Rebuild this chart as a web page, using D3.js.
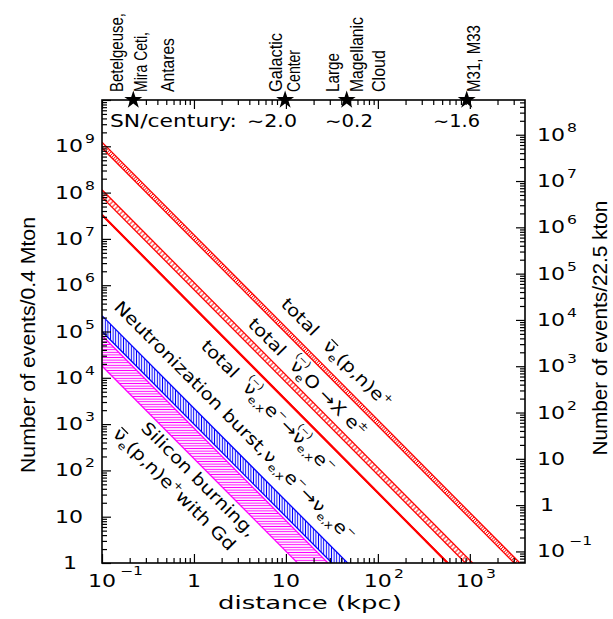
<!DOCTYPE html>
<html><head><meta charset="utf-8">
<script src="https://cdn.jsdelivr.net/npm/d3@7"></script>
<style>body{margin:0;background:#fff}svg{display:block}</style>
</head><body>
<svg id="c" width="613" height="619"></svg>
<script>
// ---------------- data ----------------
const xDomain = [0.1, 3981];            // distance, kpc
const yDomain = [1, 1e10];              // events / 0.4 Mton
const massRatio = 400 / 22.5;           // 0.4 Mton vs 22.5 kton
const bandDist = [0.1, 4000];           // kpc, end points of each band

const bandKeys   = ["nuebarPN", "nuO", "nuE", "neutronization", "silicon"];
const bandLowNear  = [9.2e8, 8.0e7, 3.3e7, 1.0e5, 1.8e4];     // at 0.1 kpc
const bandHighNear = [1.23e9, 1.15e8, 3.3e7, 2.2e5, 8.2e4];   // at 0.1 kpc
const bandLowFar   = [0.575, 0.050, 0.0206, 6.25e-5, 1.12e-5]; // at 4000 kpc
const bandHighFar  = [0.769, 0.0719, 0.0206, 1.375e-4, 5.13e-5];

const xTickVals = [0.1, 1, 10, 100, 1000];
const xTickBase = ["10", "1", "10", "10", "10"];
const xTickExp  = ["\u22121", "", "", "2", "3"];

const yTickVals = [1, 10, 1e2, 1e3, 1e4, 1e5, 1e6, 1e7, 1e8, 1e9];
const yTickBase = ["1", "10", "10", "10", "10", "10", "10", "10", "10", "10"];
const yTickExp  = ["", "", "2", "3", "4", "5", "6", "7", "8", "9"];

const yRTickVals = [0.1, 1, 10, 1e2, 1e3, 1e4, 1e5, 1e6, 1e7, 1e8];
const yRTickBase = ["10", "1", "10", "10", "10", "10", "10", "10", "10", "10"];
const yRTickExp  = ["\u22121", "", "", "2", "3", "4", "5", "6", "7", "8"];

const siteNames = [["Betelgeuse,", "Mira Ceti,", "Antares"], ["Galactic", "Center"], ["Large", "Magellanic", "Cloud"], ["M31, M33"]];
const siteDist  = [0.219, 9.8, 45.8, 925];
const snRateText = ["SN/century:", "\u223C2.0", "\u223C0.2", "\u223C1.6"];

// ---------------- layout ----------------
const L = 102, R = 525, T = 100, B = 563;
const svg = d3.select("#c");
const x = d3.scaleLog().domain(xDomain).range([L, R]);
const y = d3.scaleLog().domain(yDomain).range([B, T]);
const yR = d3.scaleLog().domain([yDomain[0] / massRatio, yDomain[1] / massRatio]).range([B, T]);

const tickFont = "'DejaVu Sans', sans-serif";
const narrowFont = "'Liberation Sans Narrow', 'Liberation Sans', sans-serif";

const defs = svg.append("defs");
defs.append("clipPath").attr("id", "plot").append("rect").attr("x", L).attr("y", T).attr("width", R - L).attr("height", B - T);
function hatch(id, color, spacing, angle, sw) {
  const p = defs.append("pattern").attr("id", id).attr("patternUnits", "userSpaceOnUse")
    .attr("width", spacing).attr("height", 10).attr("patternTransform", `rotate(${angle})`);
  p.append("line").attr("x1", spacing / 2).attr("x2", spacing / 2).attr("y1", -1).attr("y2", 11)
    .attr("stroke", color).attr("stroke-width", sw);
}
hatch("h0", "#ff0000", 2.2, 45, 0.8);
hatch("h1", "#ff0000", 3.5, 45, 1.0);
hatch("h3", "#0000ff", 2.6, 0, 1.0);
hatch("h4", "#ff00ff", 2.6, 90, 1.0);
const bandFill = ["url(#h0)", "url(#h1)", "none", "url(#h3)", "url(#h4)"];
const bandStroke = ["#ff0000", "#ff0000", "#ff0000", "#0000ff", "#ff00ff"];
const bandSW = [1.3, 1.3, 2.0, 1.3, 1.3];

// ---------------- bands ----------------
const gBands = svg.append("g").attr("clip-path", "url(#plot)");
const line = d3.line().x(d => x(d[0])).y(d => y(d[1]));
bandKeys.forEach((k, i) => {
  const hi = [[bandDist[0], bandHighNear[i]], [bandDist[1], bandHighFar[i]]];
  const lo = [[bandDist[0], bandLowNear[i]], [bandDist[1], bandLowFar[i]]];
  if (bandFill[i] !== "none") {
    gBands.append("path").attr("d", line(hi.concat(lo.slice().reverse())) + "Z")
      .attr("fill", bandFill[i]).attr("stroke", "none");
  }
  [hi, lo].forEach(edge => gBands.append("path").attr("d", line(edge))
    .attr("fill", "none").attr("stroke", bandStroke[i]).attr("stroke-width", bandSW[i]));
});

// ---------------- axes (ticks) ----------------
function decadeTicks(dom) {
  const maj = [], min = [];
  const lo = Math.floor(Math.log10(dom[0]) + 1e-9), hi = Math.ceil(Math.log10(dom[1]));
  for (let e = lo; e <= hi; e++) {
    for (let k = 1; k <= 9; k++) {
      const v = k * Math.pow(10, e);
      if (v < dom[0] * 0.999 || v > dom[1] * 1.001) continue;
      (k === 1 ? maj : min).push(v);
    }
  }
  return [maj, min];
}
function drawAxis(axisFn, scale, transform, dom) {
  const [maj, min] = decadeTicks(dom);
  [[maj, 9], [min, 5]].forEach(([vals, len]) => {
    const g = svg.append("g").attr("transform", transform)
      .call(axisFn(scale).tickValues(vals).tickSize(len).tickSizeOuter(0).tickFormat(""));
    g.select(".domain").remove();
    g.selectAll("line").attr("stroke", "#000").attr("stroke-width", 1.2);
  });
}
drawAxis(d3.axisTop, x, `translate(0,${B})`, x.domain());
drawAxis(d3.axisBottom, x, `translate(0,${T})`, x.domain());
drawAxis(d3.axisRight, y, `translate(${L},0)`, y.domain());
drawAxis(d3.axisLeft, yR, `translate(${R},0)`, yR.domain());
svg.append("rect").attr("x", L).attr("y", T).attr("width", R - L).attr("height", B - T)
  .attr("fill", "none").attr("stroke", "#000").attr("stroke-width", 1.6);

// text fitted to a target length by scaling along its own direction
function fitText(px, py, rot, txt, family, size, target, anchor) {
  const t = svg.append("text").attr("font-family", family).attr("font-size", size).text(txt);
  const w = t.node().getComputedTextLength();
  const s = target / w;
  const off = anchor === "middle" ? -target / 2 : 0;
  t.attr("transform", `translate(${px},${py}) rotate(${rot}) translate(${off},0) scale(${s},1)`);
  return t;
}

// ---------------- tick labels ----------------
const SX = 1.3;
function powLabel(px, py, base, exp, anchor, neg) {
  const g = svg.append("g");
  const bt = g.append("text").attr("font-family", tickFont).attr("font-size", 17).text(base)
    .attr("transform", `scale(${SX},1)`);
  const bw = bt.node().getComputedTextLength() * SX;
  let et = null;
  if (exp) et = g.append("text").attr("font-family", tickFont).attr("font-size", 12).text(exp);
  let x0;
  if (anchor === "end") x0 = px - bw;
  else if (anchor === "middle") x0 = px - bw / 2;
  else x0 = px;
  bt.attr("transform", `translate(${x0},${py}) scale(${SX},1)`);
  if (et) {
    const gap = neg ? 4 : 2;
    et.attr("transform", `translate(${x0 + bw + gap},${py - (neg ? 12 : 9)}) scale(${SX},1)`);
  }
}
xTickVals.forEach((v, i) => powLabel(x(v), 587, xTickBase[i], xTickExp[i], "middle", xTickExp[i].startsWith("\u2212")));
yTickVals.forEach((v, i) => powLabel(yTickBase[i] === "1" ? 77 : 83, y(v) + 6, yTickBase[i], yTickExp[i], "end", false));
yRTickVals.forEach((v, i) => powLabel(yRTickBase[i] === "1" ? 540 : 537, yR(v) + 6, yRTickBase[i], yRTickExp[i], "start", yRTickExp[i].startsWith("\u2212")));

// ---------------- axis titles ----------------
fitText(35, 345, -90, "Number of events/0.4 Mton", narrowFont, 21, 256, "middle");
fitText(607, 328, -90, "Number of events/22.5 kton", narrowFont, 21, 255, "middle");
fitText(310, 609, 0, "distance (kpc)", tickFont, 17, 184, "middle");

// ---------------- sites on top axis ----------------
const siteLineX = [[-10, 14, 41], [-3, 15], [-8, 16, 38], [13]];
const siteLen = [[79, 60, 54], [59, 42], [39, 75, 42], [67]];
siteNames.forEach((lines, i) => {
  const sx = x(siteDist[i]);
  svg.append("path").attr("transform", `translate(${sx},${T})`)
    .attr("d", d3.symbol().type(d3.symbolStar).size(100)()).attr("fill", "#000");
  lines.forEach((t, j) => fitText(sx + siteLineX[i][j], 92, -90, t, narrowFont, 18, siteLen[i][j], "start"));
});
const snX = [110, 247, 325, 433], snLen = [127, 50, 48, 47];
snRateText.forEach((t, i) => fitText(snX[i], 127, 0, t, tickFont, 17, snLen[i], "start"));

// ---------------- rotated band labels ----------------
const labelSegs = [
  [{t: "total", gap: 1}, {t: "\u03BD", bar: 1}, {t: "e", sub: 1}, {t: "(p,n)e"}, {t: "+", sup: 1}],
  [{t: "total", gap: 1}, {t: "\u03BD", paren: 1}, {t: "e", sub: 1}, {t: " O \u2192X e "}, {t: "\u00B1", sup: 1}],
  [{t: "total", gap: 1}, {t: "\u03BD", paren: 1}, {t: "e,x", sub: 1}, {t: " e"}, {t: "\u2212", sup: 1}, {t: "\u2192"}, {t: "\u03BD", paren: 1}, {t: "e,x", sub: 1}, {t: " e"}, {t: "\u2212", sup: 1}],
  [{t: "Neutronization burst, "}, {t: "\u03BD"}, {t: "e,x", sub: 1}, {t: " e"}, {t: "\u2212", sup: 1}, {t: "\u2192"}, {t: "\u03BD"}, {t: "e,x", sub: 1}, {t: " e"}, {t: "\u2212", sup: 1}],
  [{t: "Silicon burning,"}],
  [{t: "\u03BD", bar: 1}, {t: "e", sub: 1}, {t: "(p,n)e"}, {t: "+", sup: 1}, {t: " with Gd"}]
];
const labelPos = [[280, 305], [247, 325], [200, 347], [113, 308], [140, 429], [112, 435]];
const LF = 17, LSX = 1.17;
labelSegs.forEach((segs, i) => {
  const g = svg.append("g").attr("transform", `translate(${labelPos[i][0]},${labelPos[i][1]}) rotate(45) scale(${LSX},1)`);
  let cx = 0;
  segs.forEach(s => {
    const fs = (s.sub || s.sup) ? LF * 0.62 : LF;
    const dy = s.sub ? LF * 0.25 : s.sup ? -LF * 0.45 : 0;
    const tx = g.append("text").attr("x", cx).attr("y", dy).attr("font-family", tickFont)
      .attr("font-size", fs).text(s.t);
    const w = tx.node().getComputedTextLength();
    if (s.bar) g.append("line").attr("x1", cx + 1).attr("x2", cx + w - 0.5).attr("y1", -LF * 0.72).attr("y2", -LF * 0.72)
      .attr("stroke", "#000").attr("stroke-width", 1.2);
    if (s.paren) g.append("text").attr("x", cx + w / 2).attr("y", -LF * 0.7).attr("text-anchor", "middle")
      .attr("font-family", tickFont).attr("font-size", LF * 0.55).text("(\u2212)");
    cx += w + (s.gap ? LF * 0.7 : 0);
  });
});
</script>
</body></html>
